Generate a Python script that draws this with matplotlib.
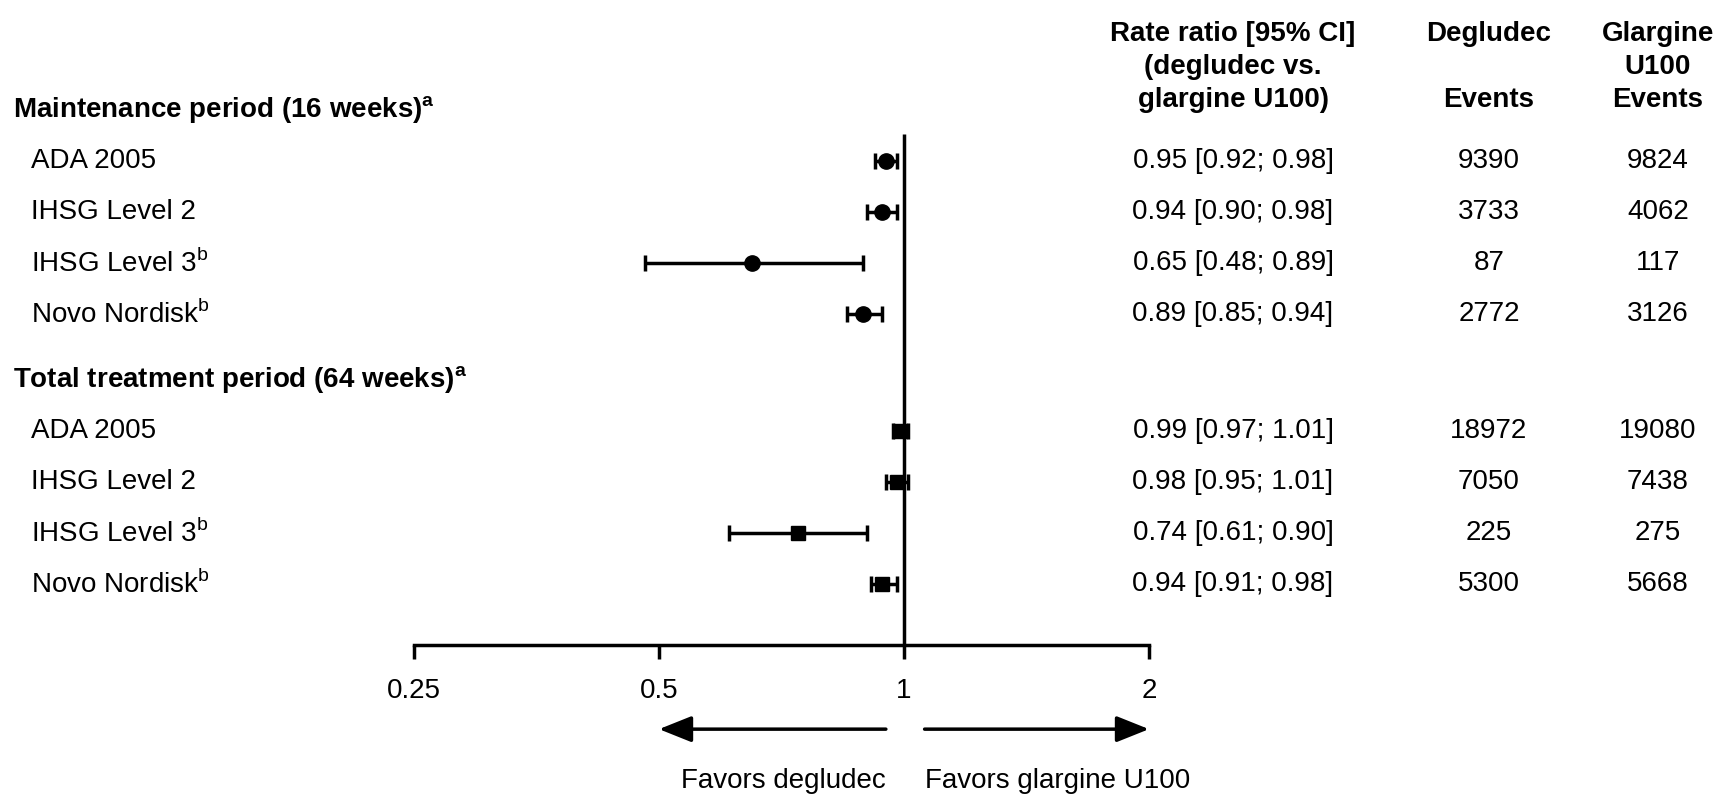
import matplotlib.pyplot as plt
from matplotlib.transforms import blended_transform_factory

plt.rcParams['font.family'] = ['Liberation Sans', 'DejaVu Sans']
plt.rcParams['mathtext.fontset'] = 'custom'
plt.rcParams['mathtext.rm'] = 'Liberation Sans'
plt.rcParams['mathtext.bf'] = 'Liberation Sans:bold'

# data
maint_title = r'Maintenance period (16 weeks)$^\mathbf{a}$'
total_title = r'Total treatment period (64 weeks)$^\mathbf{a}$'
row_labels = ['ADA 2005', 'IHSG Level 2', r'IHSG Level 3$^\mathrm{b}$', r'Novo Nordisk$^\mathrm{b}$']

maint_rr = [0.95, 0.94, 0.65, 0.89]
maint_lo = [0.92, 0.90, 0.48, 0.85]
maint_hi = [0.98, 0.98, 0.89, 0.94]
maint_deg = [9390, 3733, 87, 2772]
maint_gla = [9824, 4062, 117, 3126]

total_rr = [0.99, 0.98, 0.74, 0.94]
total_lo = [0.97, 0.95, 0.61, 0.91]
total_hi = [1.01, 1.01, 0.90, 0.98]
total_deg = [18972, 7050, 225, 5300]
total_gla = [19080, 7438, 275, 5668]

xticks = [0.25, 0.5, 1, 2]
xtick_labels = ['0.25', '0.5', '1', '2']

FS = 20
LW = 2.5
W, H = 1719, 796

fig = plt.figure(figsize=(W / 100, H / 100), dpi=100)
ax = fig.add_axes([414 / W, (H - 645) / H, 735 / W, 645 / H])
ax.set_xscale('log', base=2)
ax.set_xlim(0.25, 2)
ax.set_ylim(10.49, -2.157)
for s in ['left', 'right', 'top']:
    ax.spines[s].set_visible(False)
ax.spines['bottom'].set_linewidth(LW)
ax.set_yticks([])
ax.set_xticks(xticks)
ax.set_xticklabels(xtick_labels, fontsize=FS)
ax.minorticks_off()
ax.tick_params(axis='x', direction='out', length=10, width=LW, pad=14)

# vertical reference line
ax.vlines(1, 0.47, 10.49, color='black', lw=LW, zorder=1)

maint_y = [1, 2, 3, 4]
total_y = [6.3, 7.3, 8.3, 9.3]
head_y = [0, 5.3]

def draw_group(ys, rr, lo, hi, marker, ms):
    err = [[r - l for r, l in zip(rr, lo)], [h - r for r, h in zip(rr, hi)]]
    ax.errorbar(rr, ys, xerr=err, fmt=marker, color='black', ms=ms,
                elinewidth=LW, capsize=6, capthick=LW, zorder=3)

draw_group(maint_y, maint_rr, maint_lo, maint_hi, 'o', 11)
draw_group(total_y, total_rr, total_lo, total_hi, 's', 10)

tr = blended_transform_factory(fig.transFigure, ax.transData)
ax.text(13 / W, head_y[0], maint_title, transform=tr, fontsize=FS, fontweight='bold', va='center')
ax.text(13 / W, head_y[1], total_title, transform=tr, fontsize=FS, fontweight='bold', va='center')

col_rr, col_deg, col_gla = 1233 / W, 1489 / W, 1658 / W
for ys, rr, lo, hi, deg, gla in [(maint_y, maint_rr, maint_lo, maint_hi, maint_deg, maint_gla),
                                 (total_y, total_rr, total_lo, total_hi, total_deg, total_gla)]:
    for i, y in enumerate(ys):
        ax.text(31 / W, y, row_labels[i], transform=tr, fontsize=FS, va='center')
        ax.text(col_rr, y, f'{rr[i]:.2f} [{lo[i]:.2f}; {hi[i]:.2f}]', transform=tr,
                fontsize=FS, va='center', ha='center')
        ax.text(col_deg, y, str(deg[i]), transform=tr, fontsize=FS, va='center', ha='center')
        ax.text(col_gla, y, str(gla[i]), transform=tr, fontsize=FS, va='center', ha='center')

# column headers
hy = 1 - 67 / H
fig.text(col_rr, hy, 'Rate ratio [95% CI]\n(degludec vs.\nglargine U100)', fontsize=FS,
         fontweight='bold', ha='center', va='center', linespacing=1.33)
fig.text(col_deg, hy, 'Degludec\n\nEvents', fontsize=FS, fontweight='bold',
         ha='center', va='center', linespacing=1.33)
fig.text(col_gla, hy, 'Glargine\nU100\nEvents', fontsize=FS, fontweight='bold',
         ha='center', va='center', linespacing=1.33)

# direction arrows below the axis
arrow_y = 12.14
aprops = dict(arrowstyle='-|>,head_length=1.0,head_width=0.4', mutation_scale=20,
              color='black', lw=LW, shrinkA=0, shrinkB=0)
ax.annotate('', xy=(0.5, arrow_y), xytext=(0.95, arrow_y), arrowprops=aprops,
            annotation_clip=False)
ax.annotate('', xy=(2, arrow_y), xytext=(1.06, arrow_y), arrowprops=aprops,
            annotation_clip=False)
ax.text(0.95, 13.16, 'Favors degludec', fontsize=FS, ha='right', va='center', clip_on=False)
ax.text(1.06, 13.16, 'Favors glargine U100', fontsize=FS, ha='left', va='center', clip_on=False)

fig.savefig('out.png', dpi=100)
